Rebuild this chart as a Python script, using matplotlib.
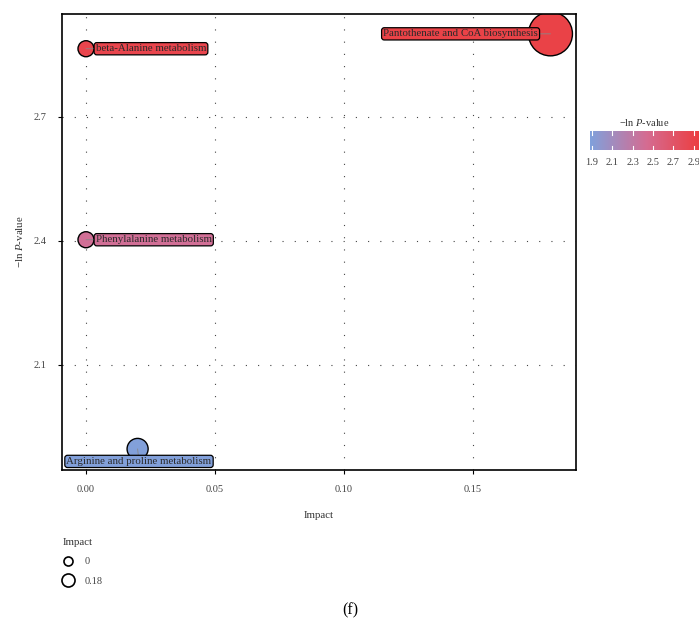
import numpy as np
import matplotlib
matplotlib.use("Agg")
import matplotlib.pyplot as plt
from matplotlib.colors import LinearSegmentedColormap, Normalize
from matplotlib.lines import Line2D

plt.rcParams['font.family'] = ['Liberation Serif', 'DejaVu Serif']
plt.rcParams['mathtext.fontset'] = 'custom'
plt.rcParams['mathtext.rm'] = 'Liberation Serif'
plt.rcParams['mathtext.it'] = 'Liberation Serif:italic'

# Pathway enrichment results
pathways = ["Pantothenate and CoA biosynthesis",
            "beta-Alanine metabolism",
            "Phenylalanine metabolism",
            "Arginine and proline metabolism"]
impact   = [0.18, 0.0, 0.0, 0.02]
neglogp  = [2.901, 2.865, 2.403, 1.897]

xticks  = [0.0, 0.05, 0.10, 0.15]
xlabels = ["0.00", "0.05", "0.10", "0.15"]
yticks  = [2.1, 2.4, 2.7]
cbticks = [1.9, 2.1, 2.3, 2.5, 2.7, 2.9]

# label offsets (points) and alignment for each pathway
lblOff = [(-9, 0, "right"), (7, 0, "left"), (7, 0, "left"), (1, -9, "center")]

cmap = LinearSegmentedColormap.from_list("bluered", ["#80a1dc", "#d56c92", "#ee3b3b"])
norm = Normalize(vmin=1.88, vmax=2.98)

fig = plt.figure(figsize=(6.99, 6.22), dpi=100)
ax  = fig.add_axes([62/699, 1-470/622, (576-62)/699, (470-14)/622])

imp   = np.array(impact)
sizes = 133 + (1004 - 133)*imp/imp.max()
cols  = cmap(norm(np.array(neglogp)))

ax.scatter(impact, neglogp, s=sizes, c=cols, edgecolors="black", linewidths=1.0, zorder=2)

for i, name in enumerate(pathways):
    dx, dy, ha = lblOff[i]
    ax.annotate(name, xy=(impact[i], neglogp[i]), xytext=(dx, dy),
                textcoords="offset points", ha=ha, va="center",
                fontsize=7.8, color="#2a2a2a", zorder=4,
                bbox=dict(boxstyle="round,pad=0.15,rounding_size=0.25",
                          fc=cols[i], ec="black", lw=0.9),
                arrowprops=dict(arrowstyle="-", color="#888888", lw=0.6,
                                shrinkA=0, shrinkB=0))

ax.set_xlim(-0.0093, 0.1899)
ax.set_ylim(1.846, 2.949)
ax.set_xticks(xticks)
ax.set_xticklabels(xlabels)
ax.set_yticks(yticks)
ax.tick_params(labelsize=7.5, colors="black", labelcolor="#444444", length=3, width=0.8)
ax.tick_params(axis="x", pad=8)
ax.tick_params(axis="y", pad=8)
ax.grid(True, color="#444444", linestyle=(0, (1, 10)), linewidth=0.8)
ax.set_axisbelow(True)
for sp in ax.spines.values():
    sp.set_linewidth(1.2)

ax.set_xlabel("Impact", fontsize=7.8, color="#333333", labelpad=12)
ax.set_ylabel("−ln $P$-value", fontsize=7.8, color="#333333", labelpad=6)

# colour bar
cax = fig.add_axes([590/699, 1-150/622, 112/699, 19/622])
grad = np.linspace(norm.vmin, norm.vmax, 256).reshape(1, -1)
cax.imshow(grad, aspect="auto", cmap=cmap, norm=norm,
           extent=[norm.vmin, norm.vmax, 0, 1])
cax.set_xlim(norm.vmin, norm.vmax)
cax.set_yticks([])
cax.set_xticks(cbticks)
cax.set_xticklabels(["%.1f" % t for t in cbticks])
cax.tick_params(axis="x", labelsize=7.5, labelcolor="#444444", length=0, pad=6)
for t in cbticks:
    cax.plot([t, t], [0, 0.2], color="white", lw=0.8)
    cax.plot([t, t], [0.8, 1], color="white", lw=0.8)
for sp in cax.spines.values():
    sp.set_visible(False)
fig.text(644/699, 1-122/622, "−ln $P$-value", fontsize=7.5, color="#333333",
         ha="center", va="center")

# size legend
handles = [Line2D([], [], marker="o", linestyle="none", markersize=6.5,
                  mfc="white", mec="black", mew=1.2),
           Line2D([], [], marker="o", linestyle="none", markersize=9.4,
                  mfc="white", mec="black", mew=1.2)]
leg = fig.legend(handles, ["0", "0.18"], title="Impact", loc="upper left",
                 bbox_to_anchor=(58/699, 1-534/622), frameon=False,
                 fontsize=7.5, title_fontsize=7.8, handletextpad=1.0,
                 labelspacing=0.95, borderaxespad=0, handlelength=1.2)
leg._legend_box.align = "left"
for t in leg.get_texts():
    t.set_color("#444444")
leg.get_title().set_color("#333333")

fig.text(350/699, 1-610/622, "(f)", fontsize=11.5, ha="center", va="center")

fig.savefig("out.png", dpi=100)
